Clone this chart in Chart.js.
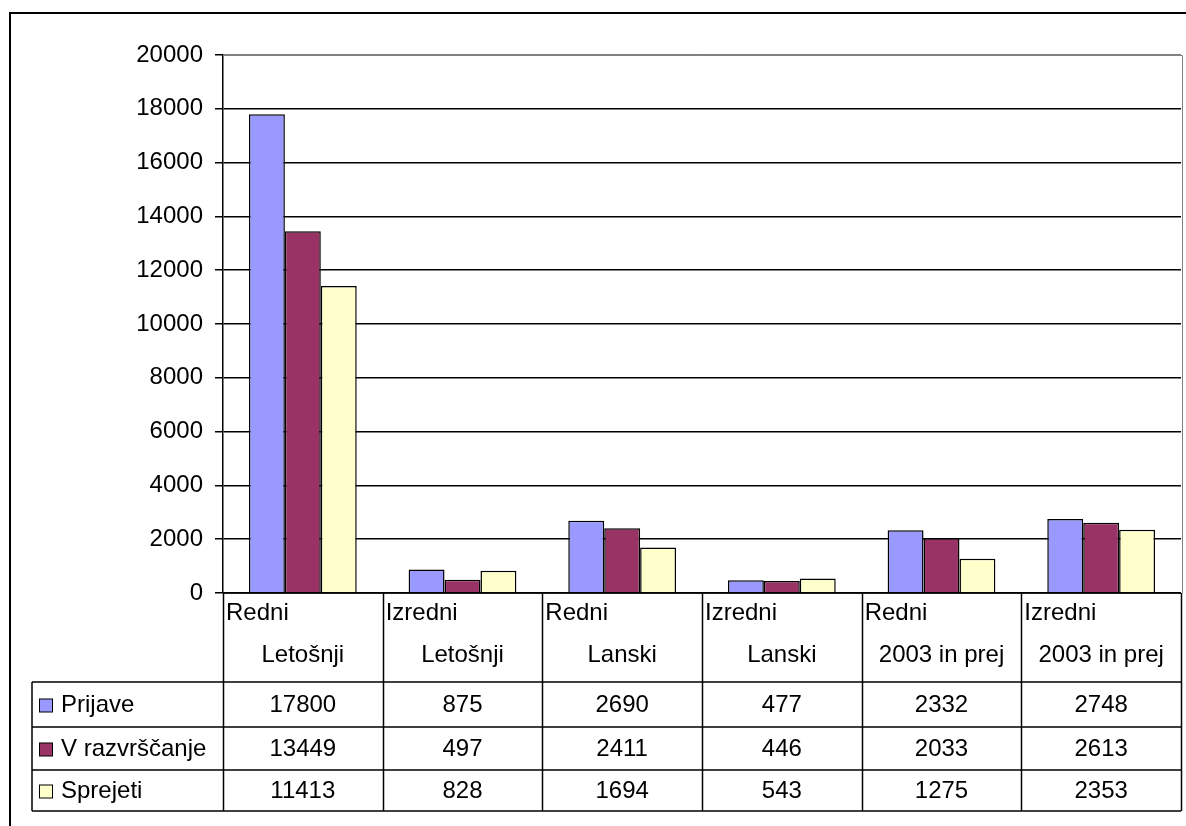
<!DOCTYPE html>
<html>
<head>
<meta charset="utf-8">
<script src="https://cdn.jsdelivr.net/npm/chart.js@4.4.1/dist/chart.umd.min.js"></script>
<style>
  body { margin: 0; background: #fff; }
  canvas { display: block; }
</style>
</head>
<body>
<canvas id="chart" width="1186" height="826"></canvas>
<script>
// Podatki
const categories = [
    ['Redni', 'Letošnji'],
    ['Izredni', 'Letošnji'],
    ['Redni', 'Lanski'],
    ['Izredni', 'Lanski'],
    ['Redni', '2003 in prej'],
    ['Izredni', '2003 in prej']
];
const seriesNames = ['Prijave', 'V razvrščanje', 'Sprejeti'];
const prijave = [17800, 875, 2690, 477, 2332, 2748];
const razvrscanje = [13449, 497, 2411, 446, 2033, 2613];
const sprejeti = [11413, 828, 1694, 543, 1275, 2353];
const yTicks = [0, 2000, 4000, 6000, 8000, 10000, 12000, 14000, 16000, 18000, 20000];

const colors = ['#9999FF', '#993366', '#FFFFCC'];
const FONT = '"Liberation Sans", Arial, sans-serif';

// Tabela s podatki pod grafom (kot v Excelu)
const dataTablePlugin = {
    id: 'dataTable',
    afterDraw(chart) {
        const ctx = chart.ctx;
        const area = chart.chartArea;
        const x = chart.scales.x;
        const catW = (area.right - area.left) / categories.length;
        const rows = [682, 727, 770, 811];
        const labelLeft = 32;
        ctx.save();

        // okvir
        ctx.strokeStyle = '#000';
        ctx.lineWidth = 2;
        ctx.beginPath();
        ctx.moveTo(10, 826);
        ctx.lineTo(10, 13);
        ctx.lineTo(1186, 13);
        ctx.stroke();

        // siv rob risalne površine
        ctx.strokeStyle = '#808080';
        ctx.lineWidth = 1;
        ctx.beginPath();
        ctx.moveTo(area.left, area.top + 0.5);
        ctx.lineTo(area.right + 1.5, area.top + 0.5);
        ctx.lineTo(area.right + 1.5, area.bottom);
        ctx.stroke();

        // črte tabele
        ctx.strokeStyle = '#000';
        ctx.lineWidth = 1.5;
        ctx.beginPath();
        ctx.moveTo(area.left, area.bottom);
        ctx.lineTo(area.right, area.bottom);
        rows.forEach(function(y) {
            ctx.moveTo(labelLeft, y);
            ctx.lineTo(area.right, y);
        });
        for (let i = 0; i <= categories.length; i++) {
            const cx = Math.round(area.left + i * catW) + 0.5;
            ctx.moveTo(cx, area.bottom);
            ctx.lineTo(cx, rows[rows.length - 1]);
        }
        ctx.moveTo(labelLeft, rows[0]);
        ctx.lineTo(labelLeft, rows[rows.length - 1]);
        ctx.stroke();

        ctx.fillStyle = '#000';
        ctx.font = '24px ' + FONT;
        ctx.textBaseline = 'middle';

        // glave stolpcev
        categories.forEach(function(cat, i) {
            const left = area.left + i * catW;
            const center = x.getPixelForValue(i);
            ctx.textAlign = 'left';
            ctx.fillText(cat[0], left + 3, 613);
            ctx.textAlign = 'center';
            ctx.fillText(cat[1], center, 655);
        });

        // vrstice s podatki
        const series = [prijave, razvrscanje, sprejeti];
        series.forEach(function(values, r) {
            const mid = (rows[r] + rows[r + 1]) / 2 + 1;
            ctx.fillStyle = colors[r];
            ctx.fillRect(39.5, mid - 6.5, 13, 13);
            ctx.strokeStyle = '#000';
            ctx.lineWidth = 1;
            ctx.strokeRect(39.5, mid - 6.5, 13, 13);
            ctx.fillStyle = '#000';
            ctx.textAlign = 'left';
            ctx.fillText(seriesNames[r], 61, mid);
            ctx.textAlign = 'center';
            values.forEach(function(v, i) {
                ctx.fillText(String(v), x.getPixelForValue(i), mid);
            });
        });
        ctx.restore();
    }
};

const ctx = document.getElementById('chart').getContext('2d');
new Chart(ctx, {
    type: 'bar',
    data: {
        labels: categories,
        datasets: [prijave, razvrscanje, sprejeti].map(function(values, i) {
            return {
                label: seriesNames[i],
                data: values,
                backgroundColor: colors[i],
                borderColor: '#000',
                borderWidth: 1.5,
                barPercentage: 1,
                categoryPercentage: 0.675
            };
        })
    },
    options: {
        responsive: false,
        animation: false,
        layout: {
            padding: { top: 55, right: 5, bottom: 233, left: 0 }
        },
        plugins: {
            legend: { display: false },
            tooltip: { enabled: false }
        },
        scales: {
            x: {
                display: false
            },
            y: {
                min: 0,
                max: 20000,
                afterFit: function(scale) { scale.width = 223; },
                afterBuildTicks: function(scale) {
                    scale.ticks = yTicks.map(function(v) { return { value: v }; });
                },
                border: { display: true, color: '#000', width: 1.5 },
                grid: {
                    color: function(c) { return c.tick && c.tick.value === 20000 ? '#808080' : '#000'; },
                    tickColor: '#000',
                    tickLength: 8,
                    lineWidth: 1.5
                },
                ticks: {
                    color: '#000',
                    padding: 12,
                    font: { family: FONT, size: 24 },
                    callback: function(value) { return String(value); }
                }
            }
        }
    },
    plugins: [dataTablePlugin]
});
</script>
</body>
</html>
